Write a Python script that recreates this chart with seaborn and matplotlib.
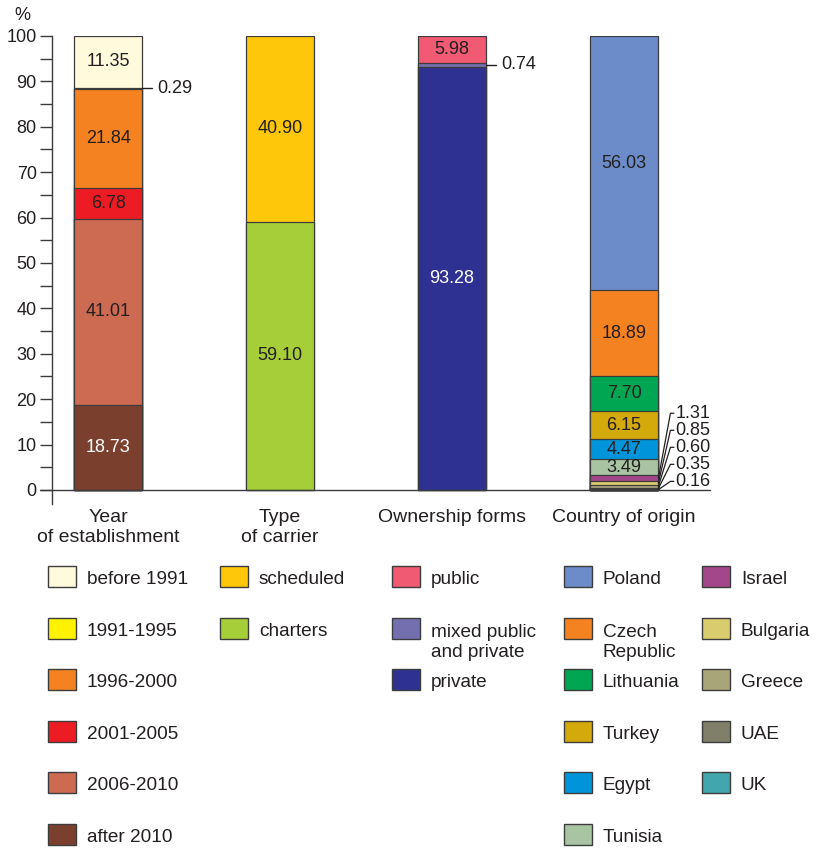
import matplotlib
matplotlib.use("Agg")
import matplotlib.pyplot as plt
from matplotlib.patches import Rectangle
import pandas as pd
import seaborn as sns


sns.set_theme(style="ticks")
plt.rcParams["font.family"] = ["Liberation Sans", "DejaVu Sans"]

INK = "#231f20"
EDGE = "#3c3c3c"

groups = ["Year\nof establishment", "Type\nof carrier", "Ownership forms", "Country of origin"]

# stacks listed bottom -> top
year_labels = ["after 2010", "2006-2010", "2001-2005", "1996-2000", "1991-1995", "before 1991"]
year_values = [18.73, 41.01, 6.78, 21.84, 0.29, 11.35]
year_colors = ["#7b3f2e", "#cd6a52", "#ed1c24", "#f58220", "#fff200", "#fffadc"]

carrier_labels = ["charters", "scheduled"]
carrier_values = [59.10, 40.90]
carrier_colors = ["#a6ce39", "#ffc70a"]

owner_labels = ["private", "mixed public\nand private", "public"]
owner_values = [93.28, 0.74, 5.98]
owner_colors = ["#2e3192", "#7470b0", "#f05a72"]

country_labels = ["UK", "UAE", "Greece", "Bulgaria", "Israel", "Tunisia", "Egypt",
                  "Turkey", "Lithuania", "Czech\nRepublic", "Poland"]
country_values = [0.16, 0.35, 0.60, 0.85, 1.31, 3.49, 4.47, 6.15, 7.70, 18.89, 56.03]
country_colors = ["#41a6ad", "#7f7f6a", "#a8a578", "#d9cc6e", "#a4478a", "#a8c4a2",
                  "#0095da", "#d4a90c", "#00a651", "#f58220", "#6b8cc8"]

white_text = {"after 2010", "private"}


def build_frame():
    rows = []
    sets = [
        (year_labels, year_values, year_colors),
        (carrier_labels, carrier_values, carrier_colors),
        (owner_labels, owner_values, owner_colors),
        (country_labels, country_values, country_colors),
    ]
    for gi, (labels, values, colors) in enumerate(sets):
        bottom = 0.0
        for lab, val, col in zip(labels, values, colors):
            rows.append({"group": groups[gi], "pos": gi, "label": lab, "value": val,
                         "color": col, "bottom": bottom, "top": bottom + val})
            bottom += val
    return pd.DataFrame(rows)


df = build_frame()

fig = plt.figure(figsize=(8.17, 8.48), dpi=100)
W, H = 817, 848
ax = fig.add_axes([52 / W, 344.4 / H, 658 / W, 467.6 / H])

# layered cumulative bars: tallest first so each segment shows its own colour
for _, r in df.sort_values("top", ascending=False).iterrows():
    sns.barplot(x=[r["group"]], y=[r["top"]], order=groups, color=r["color"],
                saturation=1, width=0.4, edgecolor=EDGE, linewidth=0.9,
                errorbar=None, ax=ax)

ax.set_xlim(-0.326, 3.5)
ax.set_ylim(-3, 100)
ax.set_yticks(range(0, 101, 10))
ax.set_yticks(range(5, 100, 10), minor=True)
ax.tick_params(axis="y", which="both", direction="out", length=9, width=1,
               color=EDGE, labelsize=13, labelcolor=INK, pad=2)
ax.set_xticks(range(len(groups)))
ax.set_xticklabels(groups, fontsize=14, color=INK, linespacing=1.25)
ax.tick_params(axis="x", length=0, pad=4)
ax.set_xlabel("")
ax.set_ylabel("")
for side in ["top", "right", "bottom"]:
    ax.spines[side].set_visible(False)
ax.spines["left"].set_color(EDGE)
ax.spines["left"].set_linewidth(1)
ax.axhline(0, xmin=-12 / 658, xmax=1, color=EDGE, lw=1, clip_on=False, zorder=5)
ax.text(-0.045, 1.043, "%", transform=ax.transAxes, ha="center", va="center",
        fontsize=13, color=INK)

# values inside the bars
for _, r in df.iterrows():
    if r["value"] >= 3:
        col = "white" if r["label"] in white_text else INK
        ax.text(r["pos"], r["bottom"] + r["value"] / 2, f"{r['value']:.2f}",
                ha="center", va="center", fontsize=13, color=col, zorder=6)

# thin segments with outside labels
for lab in ["1991-1995", "mixed public\nand private"]:
    r = df[df["label"] == lab].iloc[0]
    mid = r["bottom"] + r["value"] / 2
    x0 = r["pos"] + 0.2
    ax.plot([x0, x0 + 0.056], [mid, mid], color=INK, lw=1, clip_on=False)
    ax.text(x0 + 0.085, mid, f"{r['value']:.2f}", ha="left", va="center",
            fontsize=13, color=INK)

small = df[(df["pos"] == 3) & (df["value"] < 3)].sort_values("top", ascending=False)
for i, (_, r) in enumerate(small.iterrows()):
    mid = r["bottom"] + r["value"] / 2
    ly = 16.9 - 3.75 * i
    x0 = r["pos"] + 0.2
    ax.plot([x0, x0 + 0.07, x0 + 0.09], [mid, ly, ly], color=INK, lw=0.9,
            clip_on=False)
    ax.text(x0 + 0.1, ly, f"{r['value']:.2f}", ha="left", va="center",
            fontsize=13, color=INK)

# legend, one column per stack
legend_cols = [
    (year_labels[::-1], year_colors[::-1]),
    (carrier_labels[::-1], carrier_colors[::-1]),
    (owner_labels[::-1], owner_colors[::-1]),
    (country_labels[::-1][:6], country_colors[::-1][:6]),
    (country_labels[::-1][6:], country_colors[::-1][6:]),
]
col_x = [48, 220, 392, 564, 702]
line_h = 21.7
for cx, (labels, colors) in zip(col_x, legend_cols):
    for i, (lab, col) in enumerate(zip(labels, colors)):
        cy = 576.5 + 51.6 * i
        fig.add_artist(Rectangle((cx / W, (H - cy - 10.5) / H), 28 / W, 21 / H,
                                 facecolor=col, edgecolor=EDGE, lw=1,
                                 transform=fig.transFigure))
        # baseline of the last line; first line sits level with the swatch
        extra = lab.count("\n") * line_h
        fig.text((cx + 39) / W, (H - cy - 7.5 - extra) / H, lab, ha="left",
                 va="baseline", fontsize=13.7, color=INK, linespacing=1.27)

fig.savefig("out.png", dpi=100, facecolor="white")
